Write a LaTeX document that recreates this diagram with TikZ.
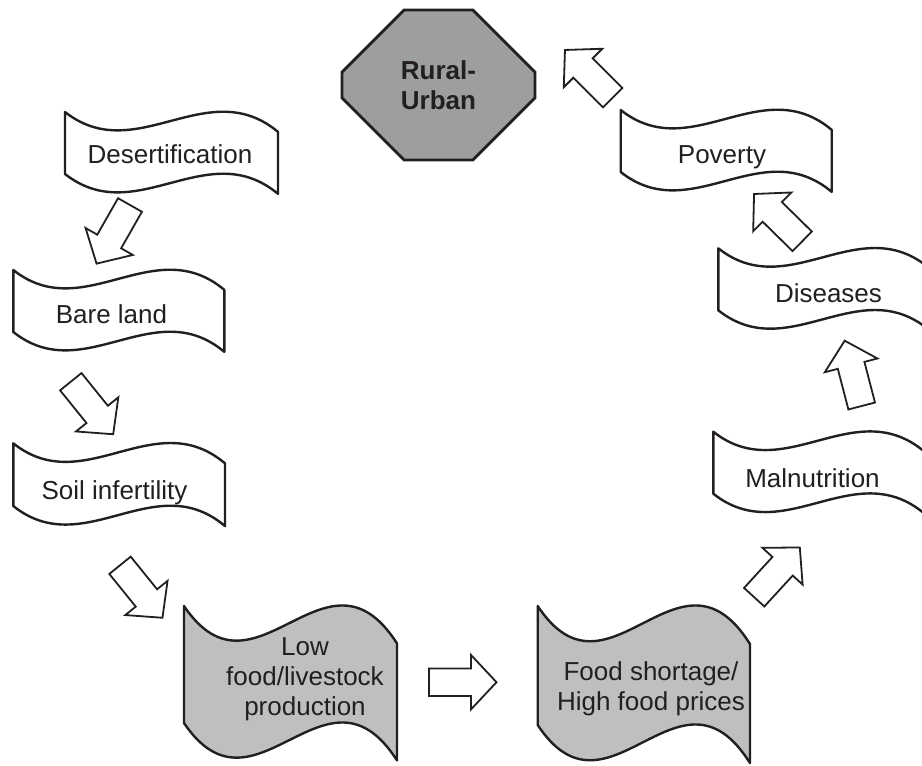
\documentclass[tikz,border=0pt]{standalone}
\usepackage{fontspec}
\setmainfont{Liberation Sans}
\usetikzlibrary{shapes.misc}

\definecolor{ink}{RGB}{35,31,32}
\definecolor{octgray}{RGB}{157,158,160}
\definecolor{bangray}{RGB}{190,191,193}

\newcommand{\wavebox}[5][white]{%
  \draw[banner, fill=#1] (#2,#3) .. controls ({#2+#4/3},{#3+0.9*#5}) and ({#2+2*#4/3},{#3-0.63*#5}) .. ({#2+#4},{#3+0.32*#5})
    -- ({#2+#4},{#3+1.32*#5}) .. controls ({#2+2*#4/3},{#3+0.37*#5}) and ({#2+#4/3},{#3+1.9*#5}) .. (#2,{#3+#5}) -- cycle;}

\tikzset{
  banner/.style={draw=ink, line width=1.2pt, line join=round},
  label/.style={text=ink, inner sep=0pt, anchor=base},
  multi/.style={text=ink, inner sep=0pt, align=center},
  octa/.style={chamfered rectangle, chamfered rectangle xsep=22.5pt, chamfered rectangle ysep=22pt,
    minimum width=96.5pt, minimum height=75pt, inner sep=0pt, draw=ink, fill=octgray,
    line width=1.4pt, text=ink, align=center, font=\fontsize{13}{15}\selectfont\bfseries},
  blockarrow/.pic={
    \draw[draw=ink, fill=white, line width=0.9pt, line join=miter]
      (0,-13.75) -- (42,-13.75) -- (42,-27.2) -- (67.5,0) -- (42,27.2) -- (42,13.75) -- (0,13.75) -- cycle;
  }
}

\begin{document}
\begin{tikzpicture}[x=0.5pt, y=-0.5pt, font=\fontsize{13}{15}\selectfont]

\path[use as bounding box, fill=white] (0,0) rectangle (922,766);

\node[octa] (rural) at (438.5,85) {Rural-\\Urban};

\wavebox{65}{112}{213}{62}
\wavebox{13.3}{270}{211}{62}
\wavebox{13.3}{443.3}{211.7}{62.7}
\wavebox[bangray]{184}{606}{213}{117}
\wavebox[bangray]{537.7}{606}{212.3}{119}
\wavebox{713.3}{431.7}{211}{62}
\wavebox{718.3}{248.3}{211}{62}
\wavebox{620.7}{110}{211}{62}

\node[label] (desert) at (170,163.3) {Desertification};
\node[label] (bare) at (111.5,323) {Bare land};
\node[label] (soil) at (114.5,499) {Soil infertility};
\node[multi] (lowfood) at (305,678.8) {Low\\food/livestock\\production};
\node[multi] (shortage) at (651,688.3) {Food shortage/\\High food prices};
\node[label] (malnut) at (812.5,487.7) {Malnutrition};
\node[label] (disease) at (828.5,302.7) {Diseases};
\node[label] (poverty) at (722,163.3) {Poverty};

\pic[rotate=240.3] at (130,205) {blockarrow};
\pic[rotate=308.9] at (70.8,381.7) {blockarrow};
\pic[rotate=309] at (120,565.3) {blockarrow};
\pic at (429,682.2) {blockarrow};
\pic[rotate=47.5] at (754.2,597.2) {blockarrow};
\pic[rotate=104.6] at (861.7,406) {blockarrow};
\pic[rotate=135.5] at (802.2,241.3) {blockarrow};
\pic[rotate=135] at (612.7,97.7) {blockarrow};

\end{tikzpicture}
\end{document}
